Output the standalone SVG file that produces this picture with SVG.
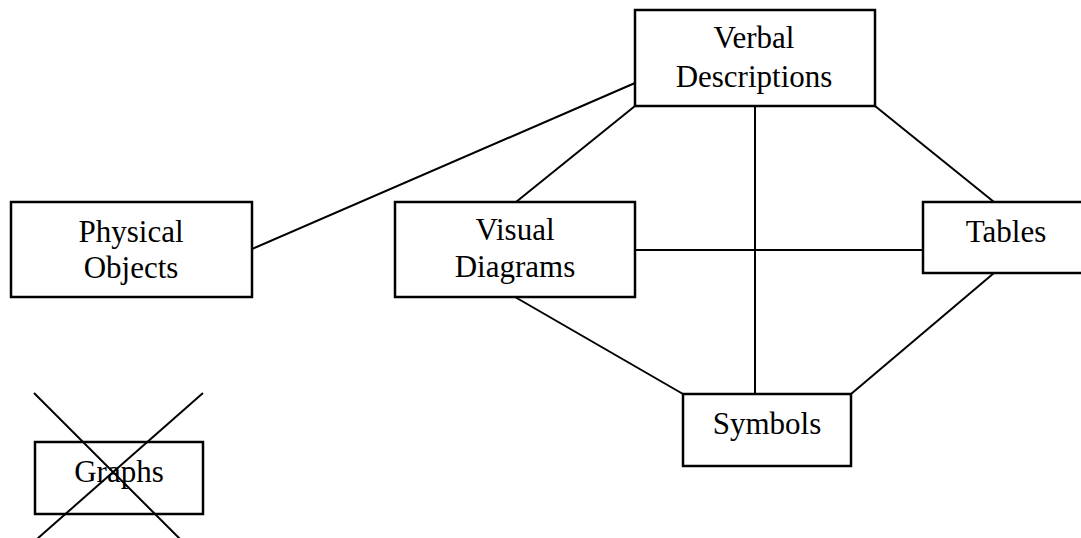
<svg xmlns="http://www.w3.org/2000/svg" width="1081" height="538" viewBox="0 0 1081 538">
<style>
.box{fill:#fff;stroke:#000;stroke-width:2.5}
.ln{stroke:#000;stroke-width:2;fill:none}
text{font-family:"Liberation Serif","Times New Roman",serif;font-size:31px;fill:#000;text-anchor:middle}
</style>
<rect width="1081" height="538" fill="#fff"/>
<g id="connectors">
<line class="ln" x1="252" y1="249" x2="635" y2="83"/>
<line class="ln" x1="635" y1="106" x2="516" y2="202"/>
<line class="ln" x1="755" y1="106" x2="755" y2="394"/>
<line class="ln" x1="875" y1="106" x2="994" y2="202"/>
<line class="ln" x1="635" y1="250" x2="923" y2="250"/>
<line class="ln" x1="515" y1="297" x2="683" y2="394"/>
<line class="ln" x1="994" y1="273" x2="851" y2="394"/>
</g>
<g id="verbal">
<rect class="box" x="635" y="10" width="240" height="96"/>
<text x="754" y="48">Verbal</text>
<text x="754" y="87">Descriptions</text>
</g>
<g id="physical">
<rect class="box" x="11" y="202" width="241" height="95"/>
<text x="131" y="242">Physical</text>
<text x="131" y="278">Objects</text>
</g>
<g id="visual">
<rect class="box" x="395" y="202" width="240" height="95"/>
<text x="515" y="240">Visual</text>
<text x="515" y="277">Diagrams</text>
</g>
<g id="tables">
<rect class="box" x="923" y="202" width="170" height="71"/>
<text x="1006" y="242">Tables</text>
</g>
<g id="symbols">
<rect class="box" x="683" y="394" width="168" height="72"/>
<text x="767" y="434">Symbols</text>
</g>
<g id="graphs">
<rect class="box" x="35" y="442" width="168" height="72"/>
<text x="119" y="482">Graphs</text>
<line class="ln" x1="34" y1="393" x2="180" y2="539"/>
<line class="ln" x1="203" y1="393" x2="37" y2="539"/>
</g>
</svg>
